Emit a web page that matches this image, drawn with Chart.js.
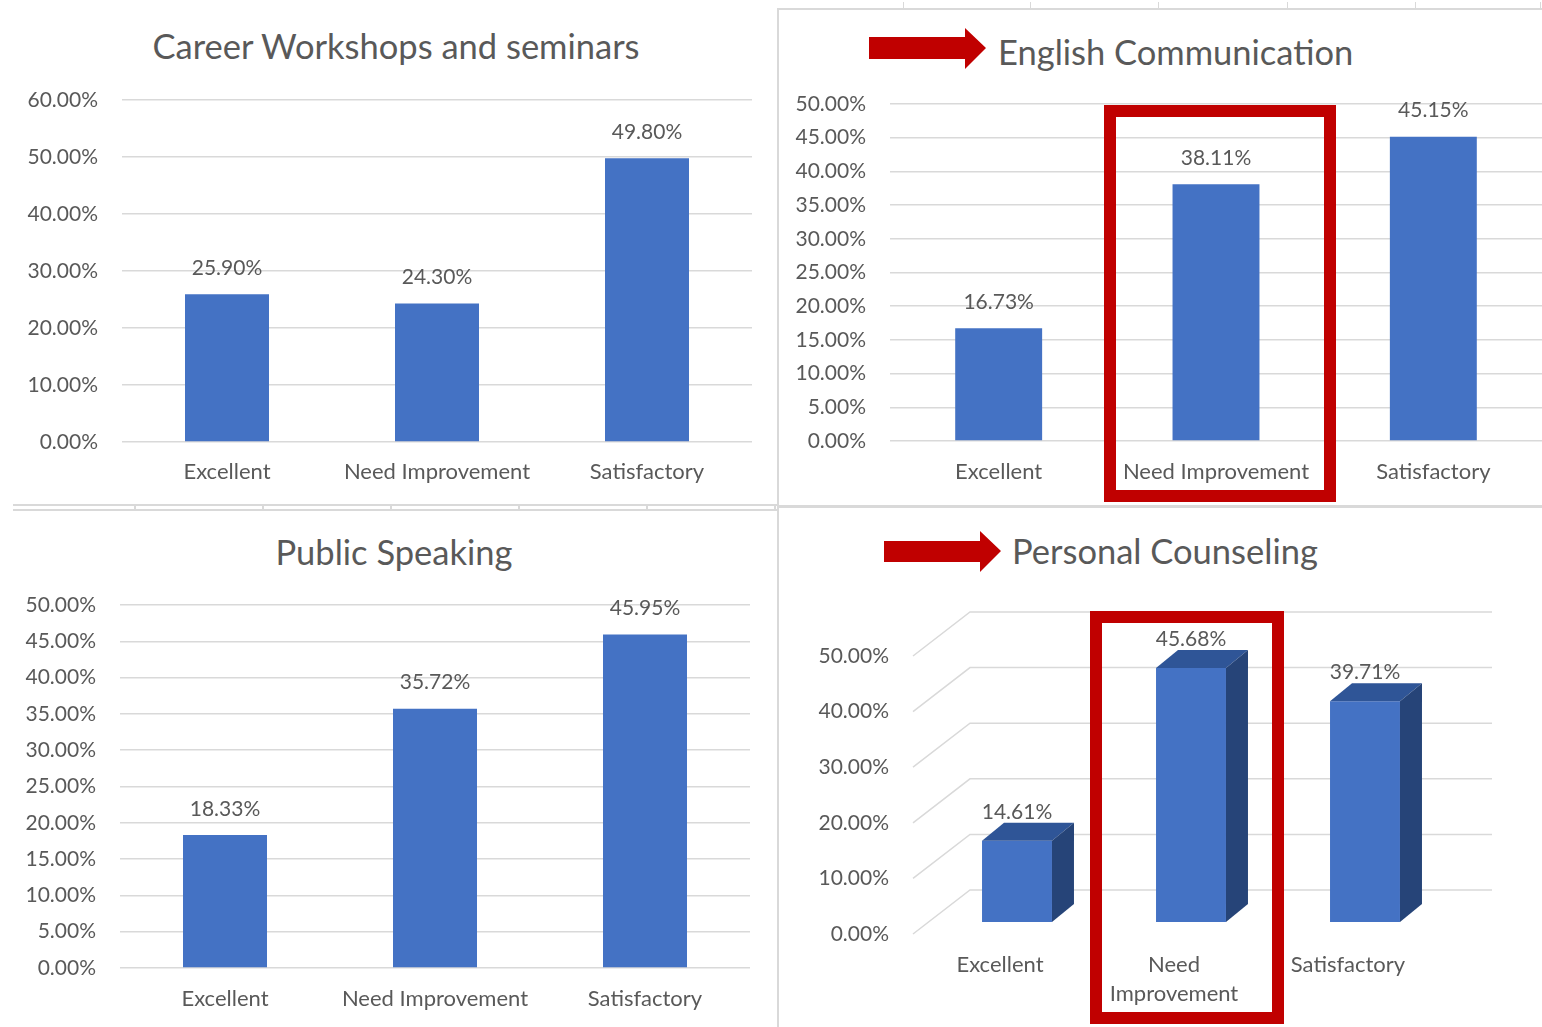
<!DOCTYPE html>
<html><head><meta charset="utf-8">
<script src="https://cdn.jsdelivr.net/npm/chart.js@4.4.0/dist/chart.umd.min.js"></script>
<style>
html,body{margin:0;padding:0;background:#fff;width:1542px;height:1027px;overflow:hidden;}
body{position:relative;font-family:Lato,sans-serif;}
canvas{position:absolute;}
.title{position:absolute;color:#595959;font-family:Lato,sans-serif;white-space:nowrap;line-height:1;font-size:34.5px;}
.ln{position:absolute;background:#D9D9D9;}
svg{position:absolute;left:0;top:0;pointer-events:none;}
</style></head><body>

<div class="title" id="t1" style="left:396px;top:46px;transform:translate(-50%,-50%);">Career Workshops and seminars</div>
<div class="title" id="t2" style="left:998px;top:52px;transform:translate(0,-50%);">English Communication</div>
<div class="title" id="t3" style="left:394px;top:552px;transform:translate(-50%,-50%);">Public Speaking</div>
<div class="title" id="t4" style="left:1012px;top:551px;transform:translate(0,-50%);">Personal Counseling</div>

<div class="ln" style="left:777px;top:8px;width:2px;height:1019px;"></div>
<div class="ln" style="left:777px;top:8px;width:765px;height:2px;"></div>
<div class="ln" style="left:903px;top:2px;width:1px;height:7px;"></div>
<div class="ln" style="left:1030px;top:2px;width:1px;height:7px;"></div>
<div class="ln" style="left:1158px;top:2px;width:1px;height:7px;"></div>
<div class="ln" style="left:1287px;top:2px;width:1px;height:7px;"></div>
<div class="ln" style="left:1415px;top:2px;width:1px;height:7px;"></div>
<div class="ln" style="left:1540px;top:2px;width:1px;height:7px;"></div>
<div class="ln" style="left:13px;top:504px;width:764px;height:2px;"></div>
<div class="ln" style="left:13px;top:509px;width:764px;height:2px;"></div>
<div class="ln" style="left:134px;top:504px;width:2px;height:7px;"></div>
<div class="ln" style="left:262px;top:504px;width:2px;height:7px;"></div>
<div class="ln" style="left:390px;top:504px;width:2px;height:7px;"></div>
<div class="ln" style="left:518px;top:504px;width:2px;height:7px;"></div>
<div class="ln" style="left:646px;top:504px;width:2px;height:7px;"></div>
<div class="ln" style="left:774px;top:504px;width:2px;height:7px;"></div>
<div class="ln" style="left:779px;top:505px;width:763px;height:3px;"></div>

<canvas id="c1" width="778" height="503" style="left:0px;top:0px;width:778px;height:503px;"></canvas>
<canvas id="c2" width="761" height="493" style="left:781px;top:10px;width:761px;height:493px;"></canvas>
<canvas id="c3" width="778" height="515" style="left:0px;top:512px;width:778px;height:515px;"></canvas>
<canvas id="c4" width="761" height="517" style="left:781px;top:510px;width:761px;height:517px;"></canvas>

<svg width="1542" height="1027" viewBox="0 0 1542 1027">
  <polygon fill="#C00000" points="869,37 965,37 965,28 986,48 965,69 965,59 869,59"/>
  <polygon fill="#C00000" points="884,541 980,541 980,531 1001,551 980,572 980,562 884,562"/>
  <rect x="1110" y="111" width="220" height="385" fill="none" stroke="#C00000" stroke-width="12"/>
  <rect x="1096" y="617" width="182" height="401" fill="none" stroke="#C00000" stroke-width="12"/>
</svg>

<script>
// ---- data ----
const categories = ['Excellent', 'Need Improvement', 'Satisfactory'];
const categories3D = ['Excellent', ['Need', 'Improvement'], 'Satisfactory'];
const careerValues = [25.90, 24.30, 49.80];
const englishValues = [16.73, 38.11, 45.15];
const speakingValues = [18.33, 35.72, 45.95];
const counselingValues = [14.61, 45.68, 39.71];
const careerAxis = {max: 60, step: 10};
const englishAxis = {max: 50, step: 5};
const speakingAxis = {max: 50, step: 5};
const counselingAxis = {max: 50, step: 10};

const TXT = '#595959';
const BAR = '#4472C4';
const GRID = '#D9D9D9';
const TOPFACE = '#2F5597';
const SIDEFACE = '#264478';
const TICK_SIZE = 21;
const CAT_SIZE = 22;

const pct = v => Number(v).toFixed(2) + '%';

const valueLabels = {
  id: 'valueLabels',
  afterDatasetsDraw(chart, args, opts) {
    const ctx = chart.ctx;
    const meta = chart.getDatasetMeta(0);
    ctx.save();
    ctx.font = TICK_SIZE + 'px Lato';
    ctx.fillStyle = TXT;
    ctx.textAlign = 'center';
    ctx.textBaseline = 'middle';
    meta.data.forEach((el, i) => {
      const v = chart.data.datasets[0].data[i];
      ctx.fillText(pct(v), el.x + (opts.dx || 0), el.y + (opts.dy || -26));
    });
    ctx.restore();
  }
};

const DX = 17, DY = -12, DEPX = 22, DEPY = -18, WALLX = 57, WALLY = -44;
const bar3d = {
  id: 'bar3d',
  beforeDatasetsDraw(chart) {
    const {ctx, chartArea: a, scales: {y}} = chart;
    ctx.save();
    ctx.strokeStyle = GRID;
    ctx.lineWidth = 1.5;
    y.ticks.forEach(t => {
      const py = y.getPixelForValue(t.value);
      ctx.beginPath();
      ctx.moveTo(a.left, py);
      ctx.lineTo(a.left + WALLX, py + WALLY);
      ctx.lineTo(a.right + WALLX, py + WALLY);
      ctx.stroke();
    });
    ctx.restore();
  },
  beforeDatasetDraw(chart) {
    chart.ctx.save();
    chart.ctx.translate(DX, DY);
  },
  afterDatasetDraw(chart) {
    const ctx = chart.ctx;
    const meta = chart.getDatasetMeta(0);
    meta.data.forEach(el => {
      const {x, y, base, width} = el.getProps(['x', 'y', 'base', 'width'], true);
      const x1 = x - width / 2, x2 = x + width / 2;
      ctx.fillStyle = TOPFACE;
      ctx.beginPath();
      ctx.moveTo(x1, y); ctx.lineTo(x2, y); ctx.lineTo(x2 + DEPX, y + DEPY); ctx.lineTo(x1 + DEPX, y + DEPY);
      ctx.closePath(); ctx.fill();
      ctx.fillStyle = SIDEFACE;
      ctx.beginPath();
      ctx.moveTo(x2, y); ctx.lineTo(x2 + DEPX, y + DEPY); ctx.lineTo(x2 + DEPX, base + DEPY); ctx.lineTo(x2, base);
      ctx.closePath(); ctx.fill();
    });
    ctx.restore();
  }
};

function makeChart(id, labels, values, axis, L, is3d) {
  const plugins = [valueLabels];
  if (is3d) plugins.push(bar3d);
  return new Chart(document.getElementById(id), {
    type: 'bar',
    data: {
      labels: labels,
      datasets: [{
        data: values,
        backgroundColor: BAR,
        borderWidth: 0,
        barPercentage: L.barPct,
        categoryPercentage: 1
      }]
    },
    plugins: plugins,
    options: {
      responsive: false,
      animation: false,
      devicePixelRatio: 1,
      layout: {padding: {top: L.top, right: L.right, left: 0, bottom: 0}},
      plugins: {
        legend: {display: false},
        tooltip: {enabled: false},
        title: {display: false},
        valueLabels: {dx: L.ldx || 0, dy: L.ldy || -26}
      },
      scales: {
        x: {
          grid: {display: false, drawTicks: false},
          border: {display: false},
          ticks: {color: TXT, font: {family: 'Lato', size: CAT_SIZE, lineHeight: L.xLH || 1.2}, padding: L.xPad, maxRotation: 0, autoSkip: false},
          afterFit: s => { s.height = L.xH; }
        },
        y: {
          min: 0, max: axis.max,
          grid: {display: !is3d, color: GRID, lineWidth: 1.5, drawTicks: false},
          border: {display: false},
          ticks: {stepSize: axis.step, color: TXT, font: {family: 'Lato', size: TICK_SIZE}, padding: 24, callback: v => pct(v)},
          afterFit: s => { s.width = L.yW; }
        }
      }
    }
  });
}

function build() {
  Chart.defaults.font.family = 'Lato';
  makeChart('c1', categories, careerValues, careerAxis,
    {top: 100, right: 26, yW: 122, xH: 61, xPad: 17, barPct: 0.4});
  makeChart('c2', categories, englishValues, englishAxis,
    {top: 94, right: 0, yW: 109, xH: 62, xPad: 18, barPct: 0.4});
  makeChart('c3', categories, speakingValues, speakingAxis,
    {top: 93, right: 28, yW: 120, xH: 59, xPad: 18, barPct: 0.4});
  makeChart('c4', categories3D, counselingValues, counselingAxis,
    {top: 146, right: 107, yW: 132, xH: 93, xPad: 17, xLH: 1.3, barPct: 0.402, ldx: DX, ldy: -41}, true);
}

if (document.fonts && document.fonts.load) {
  document.fonts.load('18px Lato').then(build, build);
} else { build(); }
</script>
</body></html>
